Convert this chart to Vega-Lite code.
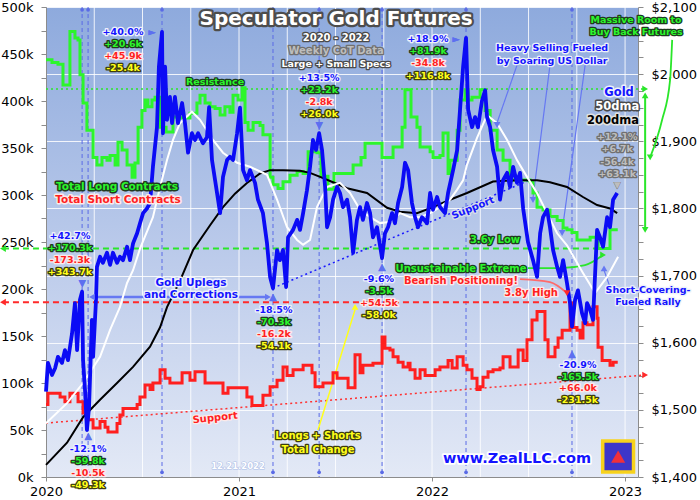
{
  "$schema": "https://vega.github.io/schema/vega-lite/v6.json",
  "description": "Speculator gold futures: total long and short contracts against the gold price, 2020 - 2022",
  "width": 592,
  "height": 470,
  "autosize": "none",
  "padding": {"left": 46, "top": 7, "right": 62, "bottom": 23},
  "background": "#ffffff",
  "config": {
    "view": {
      "stroke": null,
      "fill": {"gradient": "linear", "x1": 0, "y1": 0, "x2": 0, "y2": 1,
        "stops": [{"offset": 0, "color": "#8eaadd"}, {"offset": 0.5, "color": "#b9c9ea"}, {"offset": 1, "color": "#e3e9f6"}]}
    },
    "legend": {"disable": true},
    "axis": {"labelFont": "DejaVu Sans", "labelFontSize": 13, "labelColor": "#000000", "domainColor": "#8c8c8c", "tickColor": "#8c8c8c", "tickSize": 5}
  },
  "datasets": {
    "quarters": [
      {"t":2020.25},{"t":2020.5},{"t":2020.75},{"t":2021},{"t":2021.25},{"t":2021.5},
      {"t":2021.75},{"t":2022},{"t":2022.25},{"t":2022.5},{"t":2022.75},{"t":2023}
    ],
    "longs": [
      {"t":2020.000,"k":444},{"t":2020.031,"k":441},{"t":2020.062,"k":439},{"t":2020.088,"k":417},{"t":2020.124,"k":474},
      {"t":2020.150,"k":467},{"t":2020.166,"k":465},{"t":2020.176,"k":428},{"t":2020.192,"k":398},{"t":2020.212,"k":369},
      {"t":2020.244,"k":340},{"t":2020.264,"k":332},{"t":2020.290,"k":340},{"t":2020.316,"k":337},{"t":2020.332,"k":342},
      {"t":2020.358,"k":332},{"t":2020.373,"k":356},{"t":2020.394,"k":348},{"t":2020.420,"k":332},{"t":2020.446,"k":319},
      {"t":2020.461,"k":334},{"t":2020.477,"k":372},{"t":2020.497,"k":390},{"t":2020.513,"k":401},{"t":2020.528,"k":394},
      {"t":2020.549,"k":401},{"t":2020.565,"k":404},{"t":2020.591,"k":372},{"t":2020.622,"k":367},{"t":2020.658,"k":383},
      {"t":2020.694,"k":382},{"t":2020.746,"k":387},{"t":2020.782,"k":398},{"t":2020.798,"k":406},{"t":2020.824,"k":398},
      {"t":2020.850,"k":394},{"t":2020.876,"k":392},{"t":2020.902,"k":385},{"t":2020.927,"k":394},{"t":2020.953,"k":388},
      {"t":2020.969,"k":406},{"t":2020.995,"k":401},{"t":2021.016,"k":414},{"t":2021.031,"k":377},{"t":2021.047,"k":369},
      {"t":2021.073,"k":377},{"t":2021.109,"k":374},{"t":2021.124,"k":364},{"t":2021.161,"k":319},{"t":2021.176,"k":311},
      {"t":2021.202,"k":307},{"t":2021.228,"k":314},{"t":2021.264,"k":321},{"t":2021.301,"k":325},{"t":2021.332,"k":323},
      {"t":2021.358,"k":346},{"t":2021.404,"k":345},{"t":2021.425,"k":320},{"t":2021.461,"k":306},{"t":2021.492,"k":323},
      {"t":2021.591,"k":332},{"t":2021.632,"k":340},{"t":2021.653,"k":355},{"t":2021.741,"k":340},{"t":2021.798,"k":351},
      {"t":2021.845,"k":372},{"t":2021.860,"k":412},{"t":2021.891,"k":383},{"t":2021.922,"k":372},{"t":2021.938,"k":351},
      {"t":2021.990,"k":346},{"t":2022.005,"k":340},{"t":2022.041,"k":342},{"t":2022.057,"k":366},{"t":2022.083,"k":323},
      {"t":2022.093,"k":337},{"t":2022.130,"k":369},{"t":2022.145,"k":401},{"t":2022.171,"k":412},{"t":2022.187,"k":401},
      {"t":2022.207,"k":404},{"t":2022.249,"k":412},{"t":2022.275,"k":390},{"t":2022.301,"k":369},{"t":2022.337,"k":348},
      {"t":2022.368,"k":337},{"t":2022.404,"k":316},{"t":2022.508,"k":314},{"t":2022.523,"k":302},{"t":2022.544,"k":287},
      {"t":2022.575,"k":284},{"t":2022.611,"k":277},{"t":2022.648,"k":273},{"t":2022.679,"k":265},{"t":2022.699,"k":263},
      {"t":2022.725,"k":260},{"t":2022.751,"k":252},{"t":2022.819,"k":255},{"t":2022.860,"k":243},{"t":2022.922,"k":263},
      {"t":2022.962,"k":263}
    ],
    "shorts": [
      {"t":2020.000,"k":77},{"t":2020.010,"k":89},{"t":2020.073,"k":85},{"t":2020.098,"k":80},{"t":2020.124,"k":89},
      {"t":2020.166,"k":80},{"t":2020.192,"k":68},{"t":2020.218,"k":61},{"t":2020.244,"k":52},{"t":2020.280,"k":59},
      {"t":2020.306,"k":53},{"t":2020.321,"k":48},{"t":2020.368,"k":57},{"t":2020.383,"k":66},{"t":2020.399,"k":73},
      {"t":2020.472,"k":77},{"t":2020.487,"k":85},{"t":2020.513,"k":98},{"t":2020.539,"k":93},{"t":2020.554,"k":100},
      {"t":2020.591,"k":114},{"t":2020.617,"k":105},{"t":2020.642,"k":100},{"t":2020.705,"k":111},{"t":2020.746,"k":103},
      {"t":2020.772,"k":112},{"t":2020.824,"k":100},{"t":2020.917,"k":89},{"t":2020.943,"k":95},{"t":2021.041,"k":85},
      {"t":2021.067,"k":76},{"t":2021.124,"k":87},{"t":2021.161,"k":96},{"t":2021.197,"k":103},{"t":2021.228,"k":117},
      {"t":2021.249,"k":108},{"t":2021.280,"k":114},{"t":2021.332,"k":119},{"t":2021.378,"k":111},{"t":2021.394,"k":96},
      {"t":2021.435,"k":100},{"t":2021.487,"k":111},{"t":2021.508,"k":105},{"t":2021.565,"k":95},{"t":2021.601,"k":130},
      {"t":2021.627,"k":111},{"t":2021.642,"k":119},{"t":2021.694,"k":121},{"t":2021.741,"k":149},{"t":2021.756,"k":137},
      {"t":2021.782,"k":135},{"t":2021.798,"k":128},{"t":2021.824,"k":122},{"t":2021.850,"k":117},{"t":2021.876,"k":121},
      {"t":2021.886,"k":114},{"t":2021.912,"k":105},{"t":2021.938,"k":114},{"t":2021.964,"k":108},{"t":2022.016,"k":114},
      {"t":2022.041,"k":117},{"t":2022.083,"k":124},{"t":2022.104,"k":116},{"t":2022.130,"k":128},{"t":2022.161,"k":119},
      {"t":2022.181,"k":114},{"t":2022.207,"k":105},{"t":2022.233,"k":93},{"t":2022.249,"k":96},{"t":2022.264,"k":106},
      {"t":2022.290,"k":112},{"t":2022.316,"k":114},{"t":2022.352,"k":116},{"t":2022.368,"k":128},{"t":2022.404,"k":117},
      {"t":2022.446,"k":135},{"t":2022.472,"k":124},{"t":2022.492,"k":146},{"t":2022.518,"k":167},{"t":2022.544,"k":176},
      {"t":2022.585,"k":146},{"t":2022.601,"k":128},{"t":2022.637,"k":138},{"t":2022.653,"k":148},{"t":2022.674,"k":156},
      {"t":2022.715,"k":185},{"t":2022.731,"k":159},{"t":2022.751,"k":156},{"t":2022.767,"k":148},{"t":2022.782,"k":164},
      {"t":2022.803,"k":162},{"t":2022.834,"k":181},{"t":2022.855,"k":169},{"t":2022.860,"k":138},{"t":2022.881,"k":124},
      {"t":2022.922,"k":119},{"t":2022.938,"k":122},{"t":2022.962,"k":122}
    ],
    "gold": [
      {"t":2020.000,"p":1527},{"t":2020.010,"p":1570},{"t":2020.031,"p":1552},{"t":2020.047,"p":1562},{"t":2020.062,"p":1579},
      {"t":2020.083,"p":1570},{"t":2020.098,"p":1589},{"t":2020.114,"p":1574},{"t":2020.135,"p":1614},{"t":2020.150,"p":1659},
      {"t":2020.161,"p":1589},{"t":2020.176,"p":1664},{"t":2020.187,"p":1676},{"t":2020.192,"p":1574},{"t":2020.202,"p":1530},
      {"t":2020.212,"p":1470},{"t":2020.223,"p":1504},{"t":2020.238,"p":1634},{"t":2020.244,"p":1579},{"t":2020.259,"p":1664},
      {"t":2020.264,"p":1713},{"t":2020.280,"p":1728},{"t":2020.295,"p":1719},{"t":2020.316,"p":1734},{"t":2020.332,"p":1716},
      {"t":2020.347,"p":1734},{"t":2020.368,"p":1719},{"t":2020.383,"p":1728},{"t":2020.399,"p":1723},{"t":2020.420,"p":1743},
      {"t":2020.435,"p":1723},{"t":2020.451,"p":1748},{"t":2020.472,"p":1763},{"t":2020.487,"p":1778},{"t":2020.503,"p":1793},
      {"t":2020.523,"p":1800},{"t":2020.539,"p":1808},{"t":2020.554,"p":1862},{"t":2020.575,"p":1921},{"t":2020.585,"p":2011},
      {"t":2020.601,"p":2063},{"t":2020.606,"p":1912},{"t":2020.617,"p":2011},{"t":2020.627,"p":1932},{"t":2020.642,"p":1966},
      {"t":2020.653,"p":1927},{"t":2020.668,"p":1966},{"t":2020.684,"p":1927},{"t":2020.705,"p":1957},{"t":2020.720,"p":1927},
      {"t":2020.736,"p":1883},{"t":2020.756,"p":1912},{"t":2020.772,"p":1902},{"t":2020.788,"p":1912},{"t":2020.813,"p":1897},
      {"t":2020.834,"p":1906},{"t":2020.845,"p":1951},{"t":2020.860,"p":1872},{"t":2020.876,"p":1842},{"t":2020.902,"p":1793},
      {"t":2020.917,"p":1847},{"t":2020.938,"p":1872},{"t":2020.953,"p":1877},{"t":2020.969,"p":1872},{"t":2020.990,"p":1912},
      {"t":2021.005,"p":1950},{"t":2021.021,"p":1857},{"t":2021.041,"p":1842},{"t":2021.057,"p":1857},{"t":2021.083,"p":1838},
      {"t":2021.098,"p":1813},{"t":2021.124,"p":1793},{"t":2021.145,"p":1748},{"t":2021.161,"p":1698},{"t":2021.176,"p":1681},
      {"t":2021.197,"p":1738},{"t":2021.212,"p":1723},{"t":2021.228,"p":1738},{"t":2021.244,"p":1683},{"t":2021.254,"p":1757},
      {"t":2021.280,"p":1768},{"t":2021.301,"p":1783},{"t":2021.316,"p":1768},{"t":2021.332,"p":1793},{"t":2021.352,"p":1827},
      {"t":2021.368,"p":1862},{"t":2021.383,"p":1902},{"t":2021.399,"p":1887},{"t":2021.415,"p":1912},{"t":2021.430,"p":1887},
      {"t":2021.446,"p":1832},{"t":2021.456,"p":1772},{"t":2021.472,"p":1787},{"t":2021.487,"p":1813},{"t":2021.508,"p":1832},
      {"t":2021.523,"p":1823},{"t":2021.539,"p":1802},{"t":2021.560,"p":1813},{"t":2021.575,"p":1787},{"t":2021.591,"p":1734},
      {"t":2021.611,"p":1783},{"t":2021.627,"p":1802},{"t":2021.642,"p":1783},{"t":2021.663,"p":1808},{"t":2021.679,"p":1793},
      {"t":2021.694,"p":1757},{"t":2021.715,"p":1772},{"t":2021.741,"p":1726},{"t":2021.756,"p":1763},{"t":2021.772,"p":1772},
      {"t":2021.793,"p":1793},{"t":2021.808,"p":1778},{"t":2021.824,"p":1808},{"t":2021.845,"p":1832},{"t":2021.860,"p":1868},
      {"t":2021.876,"p":1857},{"t":2021.896,"p":1808},{"t":2021.912,"p":1787},{"t":2021.927,"p":1772},{"t":2021.948,"p":1787},
      {"t":2021.974,"p":1778},{"t":2021.990,"p":1823},{"t":2022.005,"p":1798},{"t":2022.026,"p":1817},{"t":2022.041,"p":1802},
      {"t":2022.067,"p":1793},{"t":2022.083,"p":1823},{"t":2022.109,"p":1857},{"t":2022.130,"p":1887},{"t":2022.145,"p":1947},
      {"t":2022.161,"p":2011},{"t":2022.176,"p":2054},{"t":2022.187,"p":1947},{"t":2022.207,"p":1921},{"t":2022.223,"p":1936},
      {"t":2022.238,"p":1921},{"t":2022.259,"p":1961},{"t":2022.275,"p":1976},{"t":2022.285,"p":1936},{"t":2022.301,"p":1921},
      {"t":2022.316,"p":1887},{"t":2022.337,"p":1862},{"t":2022.352,"p":1813},{"t":2022.368,"p":1842},{"t":2022.389,"p":1853},
      {"t":2022.404,"p":1832},{"t":2022.420,"p":1862},{"t":2022.440,"p":1838},{"t":2022.456,"p":1853},{"t":2022.472,"p":1800},
      {"t":2022.497,"p":1750},{"t":2022.523,"p":1723},{"t":2022.544,"p":1698},{"t":2022.560,"p":1763},{"t":2022.575,"p":1787},
      {"t":2022.596,"p":1798},{"t":2022.611,"p":1772},{"t":2022.627,"p":1738},{"t":2022.648,"p":1713},{"t":2022.663,"p":1698},
      {"t":2022.679,"p":1723},{"t":2022.699,"p":1689},{"t":2022.715,"p":1659},{"t":2022.725,"p":1624},{"t":2022.741,"p":1664},
      {"t":2022.756,"p":1678},{"t":2022.777,"p":1644},{"t":2022.793,"p":1629},{"t":2022.803,"p":1659},{"t":2022.819,"p":1649},
      {"t":2022.834,"p":1634},{"t":2022.855,"p":1768},{"t":2022.870,"p":1757},{"t":2022.886,"p":1743},{"t":2022.907,"p":1787},
      {"t":2022.922,"p":1772},{"t":2022.938,"p":1813},{"t":2022.959,"p":1823}
    ],
    "dma50": [
      {"t":2020.000,"p":1480},{"t":2020.109,"p":1510},{"t":2020.192,"p":1540},{"t":2020.280,"p":1579},{"t":2020.332,"p":1619},
      {"t":2020.383,"p":1653},{"t":2020.420,"p":1689},{"t":2020.451,"p":1708},{"t":2020.487,"p":1740},{"t":2020.554,"p":1787},
      {"t":2020.591,"p":1832},{"t":2020.627,"p":1872},{"t":2020.658,"p":1902},{"t":2020.694,"p":1927},{"t":2020.756,"p":1944},
      {"t":2020.798,"p":1932},{"t":2020.865,"p":1902},{"t":2020.917,"p":1883},{"t":2020.990,"p":1868},{"t":2021.057,"p":1862},
      {"t":2021.109,"p":1855},{"t":2021.145,"p":1850},{"t":2021.197,"p":1813},{"t":2021.249,"p":1772},{"t":2021.301,"p":1753},
      {"t":2021.332,"p":1746},{"t":2021.368,"p":1753},{"t":2021.404,"p":1802},{"t":2021.456,"p":1832},{"t":2021.523,"p":1838},
      {"t":2021.575,"p":1823},{"t":2021.627,"p":1798},{"t":2021.679,"p":1787},{"t":2021.731,"p":1778},{"t":2021.782,"p":1780},
      {"t":2021.834,"p":1793},{"t":2021.886,"p":1787},{"t":2021.938,"p":1787},{"t":2021.990,"p":1793},{"t":2022.041,"p":1802},
      {"t":2022.093,"p":1813},{"t":2022.130,"p":1828},{"t":2022.161,"p":1842},{"t":2022.181,"p":1865},{"t":2022.233,"p":1905},
      {"t":2022.285,"p":1939},{"t":2022.337,"p":1927},{"t":2022.389,"p":1902},{"t":2022.440,"p":1872},{"t":2022.492,"p":1847},
      {"t":2022.544,"p":1823},{"t":2022.596,"p":1793},{"t":2022.648,"p":1763},{"t":2022.699,"p":1745},{"t":2022.782,"p":1704},
      {"t":2022.845,"p":1674},{"t":2022.907,"p":1698},{"t":2022.964,"p":1728}
    ],
    "dma200": [
      {"t":2020.000,"p":1418},{"t":2020.109,"p":1451},{"t":2020.192,"p":1489},{"t":2020.280,"p":1515},{"t":2020.368,"p":1540},
      {"t":2020.451,"p":1564},{"t":2020.539,"p":1594},{"t":2020.591,"p":1623},{"t":2020.627,"p":1653},{"t":2020.694,"p":1692},
      {"t":2020.762,"p":1738},{"t":2020.850,"p":1775},{"t":2020.917,"p":1802},{"t":2020.979,"p":1822},{"t":2021.041,"p":1838},
      {"t":2021.109,"p":1852},{"t":2021.161,"p":1857},{"t":2021.228,"p":1857},{"t":2021.316,"p":1856},{"t":2021.368,"p":1853},
      {"t":2021.420,"p":1847},{"t":2021.487,"p":1839},{"t":2021.560,"p":1830},{"t":2021.663,"p":1823},{"t":2021.767,"p":1801},
      {"t":2021.834,"p":1795},{"t":2021.922,"p":1793},{"t":2022.005,"p":1802},{"t":2022.093,"p":1813},{"t":2022.181,"p":1823},
      {"t":2022.316,"p":1840},{"t":2022.440,"p":1842},{"t":2022.544,"p":1842},{"t":2022.611,"p":1839},{"t":2022.699,"p":1832},
      {"t":2022.782,"p":1817},{"t":2022.855,"p":1805},{"t":2022.922,"p":1800},{"t":2022.959,"p":1793}
    ],
    "events": [
      {"t":2020.187},{"t":2020.218},{"t":2020.601},{"t":2021.176},{"t":2021.415},{"t":2021.741},{"t":2022.176},{"t":2022.725}
    ],
    "guides": [
      {"t":2019.777,"k":243,"t2":2022.881,"k2":243,"kind":"longdash"},
      {"t":2019.777,"k":186,"t2":2022.699,"k2":186,"kind":"shortdash"},
      {"t":2020.000,"k":412.8,"t2":2023.104,"k2":412.8,"kind":"longdot"},
      {"t":2020.000,"k":57.4,"t2":2023.104,"k2":108.5,"kind":"shortdot"},
      {"t":2021.176,"k":201,"t2":2022.508,"k2":316,"kind":"golddot"},
      {"t":2020.238,"k":191.5,"t2":2021.150,"k2":191.5,"kind":"arrowblue"},
      {"t":2021.409,"k":50,"t2":2021.601,"k2":178,"kind":"arrowyellow"},
      {"t":2022.440,"k":438,"t2":2022.337,"k2":377,"kind":"thinblue"},
      {"t":2022.611,"k":438,"t2":2022.523,"k2":297,"kind":"thinblue"},
      {"t":2022.793,"k":438,"t2":2022.674,"k2":262,"kind":"thinblue"},
      {"t":2023.104,"k":404,"t2":2023.104,"k2":265,"kind":"arrowgreen"},
      {"t":2022.922,"k":202,"t2":2022.891,"k2":220,"kind":"thinblue"}
    ],
    "curves": [
      {"id":"room","t":2023.130,"k":340,"kind":"long"},{"id":"room","t":2023.192,"k":380,"kind":"long"},
      {"id":"room","t":2023.233,"k":422,"kind":"long"},{"id":"room","t":2023.244,"k":465,"kind":"long"},
      {"id":"extreme","t":2022.497,"k":222.3,"kind":"long"},{"id":"extreme","t":2022.663,"k":222.3,"kind":"long"},
      {"id":"extreme","t":2022.793,"k":225.5,"kind":"long"},{"id":"extreme","t":2022.886,"k":236.2,"kind":"long"},
      {"id":"bearish","t":2022.456,"k":210.6,"kind":"short"},{"id":"bearish","t":2022.611,"k":207.4,"kind":"short"},
      {"id":"bearish","t":2022.699,"k":195.7,"kind":"short"}
    ],
    "heads": [
      {"t":2019.777,"k":243,"kind":"long","dir":"left"},
      {"t":2019.777,"k":186,"kind":"short","dir":"left"},
      {"t":2023.104,"k":412.8,"kind":"long","dir":"right"},
      {"t":2023.104,"k":108.5,"kind":"short","dir":"right"},
      {"t":2020.238,"k":191.5,"kind":"blue","dir":"left"},
      {"t":2021.150,"k":191.5,"kind":"blue","dir":"right"},
      {"t":2021.601,"k":180.9,"kind":"yellow","dir":"up"},
      {"t":2022.337,"k":374.5,"kind":"blue","dir":"down"},
      {"t":2022.523,"k":294.7,"kind":"blue","dir":"down"},
      {"t":2022.674,"k":259.6,"kind":"blue","dir":"down"},
      {"t":2023.104,"k":406,"kind":"long","dir":"up"},
      {"t":2023.104,"k":263,"kind":"long","dir":"down"},
      {"t":2023.130,"k":340,"kind":"long","dir":"down"},
      {"t":2022.886,"k":236.2,"kind":"long","dir":"right"},
      {"t":2022.699,"k":195.7,"kind":"short","dir":"down"},
      {"t":2022.891,"k":222,"kind":"blue","dir":"up"}
    ],
    "notes": [
      {"t":2021.503,"k":487.2,"text":"Speculator Gold Futures","kind":"title","grp":"title"},
      {"t":2021.503,"k":467.0,"text":"2020 - 2022","kind":"white","grp":"sub"},
      {"t":2021.503,"k":453.2,"text":"Weekly CoT Data","kind":"grey","grp":"sub"},
      {"t":2021.503,"k":439.4,"text":"Large + Small Specs","kind":"white","grp":"lab"},
      {"t":2020.399,"k":473.4,"text":"+40.0%","kind":"gold","grp":"lab"},
      {"t":2020.399,"k":460.6,"text":"+20.6k","kind":"long","grp":"lab"},
      {"t":2020.399,"k":447.9,"text":"+45.9k","kind":"short","grp":"lab"},
      {"t":2020.399,"k":435.1,"text":"-25.4k","kind":"total","grp":"lab"},
      {"t":2020.549,"k":473.4,"text":"►","kind":"arrow","grp":"glyph"},
      {"t":2020.876,"k":420.2,"text":"Resistance","kind":"long","grp":"lab"},
      {"t":2020.368,"k":308.5,"text":"Total Long Contracts","kind":"long","grp":"leg"},
      {"t":2020.373,"k":294.7,"text":"Total Short Contracts","kind":"short","grp":"leg"},
      {"t":2020.124,"k":256.4,"text":"+42.7%","kind":"gold","grp":"lab"},
      {"t":2020.124,"k":243.6,"text":"+170.3k","kind":"long","grp":"lab"},
      {"t":2020.124,"k":230.9,"text":"-173.3k","kind":"short","grp":"lab"},
      {"t":2020.124,"k":218.1,"text":"+343.7k","kind":"total","grp":"lab"},
      {"t":2020.187,"k":206.4,"text":"▼","kind":"arrow","grp":"glyph"},
      {"t":2020.218,"k":29.8,"text":"-12.1%","kind":"gold","grp":"lab"},
      {"t":2020.218,"k":17.0,"text":"-59.8k","kind":"long","grp":"lab"},
      {"t":2020.218,"k":4.3,"text":"-10.5k","kind":"short","grp":"lab"},
      {"t":2020.218,"k":-8.5,"text":"-49.3k","kind":"total","grp":"lab"},
      {"t":2020.218,"k":43.5,"text":"▲","kind":"arrow","grp":"glyph"},
      {"t":2020.751,"k":206.4,"text":"Gold Uplegs","kind":"gold","grp":"leg"},
      {"t":2020.751,"k":193.6,"text":"and Corrections","kind":"gold","grp":"leg"},
      {"t":2021.181,"k":177.7,"text":"-18.5%","kind":"gold","grp":"lab"},
      {"t":2021.181,"k":164.9,"text":"-70.3k","kind":"long","grp":"lab"},
      {"t":2021.181,"k":152.1,"text":"-16.2k","kind":"short","grp":"lab"},
      {"t":2021.181,"k":139.4,"text":"-54.1k","kind":"total","grp":"lab"},
      {"t":2021.176,"k":191.0,"text":"▲","kind":"arrow","grp":"glyph"},
      {"t":2021.415,"k":424.5,"text":"+13.5%","kind":"gold","grp":"lab"},
      {"t":2021.415,"k":411.7,"text":"+23.2k","kind":"long","grp":"lab"},
      {"t":2021.415,"k":398.9,"text":"-2.8k","kind":"short","grp":"lab"},
      {"t":2021.415,"k":386.2,"text":"+26.0k","kind":"total","grp":"lab"},
      {"t":2021.415,"k":374.0,"text":"▼","kind":"arrow","grp":"glyph"},
      {"t":2021.725,"k":210.6,"text":"-9.6%","kind":"gold","grp":"lab"},
      {"t":2021.725,"k":197.9,"text":"-3.5k","kind":"long","grp":"lab"},
      {"t":2021.725,"k":185.1,"text":"+54.5k","kind":"short","grp":"lab"},
      {"t":2021.725,"k":172.3,"text":"-58.0k","kind":"total","grp":"lab"},
      {"t":2021.741,"k":223.0,"text":"▲","kind":"arrow","grp":"glyph"},
      {"t":2021.409,"k":43.6,"text":"Longs + Shorts","kind":"total","grp":"sub"},
      {"t":2021.409,"k":28.7,"text":"Total Change","kind":"total","grp":"sub"},
      {"t":2020.995,"k":11.7,"text":"12.21.2022","kind":"date","grp":"tiny"},
      {"t":2021.979,"k":466.0,"text":"+18.9%","kind":"gold","grp":"lab"},
      {"t":2021.979,"k":453.2,"text":"+81.9k","kind":"long","grp":"lab"},
      {"t":2021.979,"k":440.4,"text":"-34.8k","kind":"short","grp":"lab"},
      {"t":2021.979,"k":426.6,"text":"+116.8k","kind":"total","grp":"lab"},
      {"t":2022.124,"k":466.0,"text":"►","kind":"arrow","grp":"glyph"},
      {"t":2022.622,"k":456.4,"text":"Heavy Selling Fueled","kind":"gold","grp":"lab"},
      {"t":2022.622,"k":442.6,"text":"by Soaring US Dollar","kind":"gold","grp":"lab"},
      {"t":2023.057,"k":486.6,"text":"Massive Room to","kind":"long","grp":"lab"},
      {"t":2023.057,"k":473.4,"text":"Buy Back Futures","kind":"long","grp":"lab"},
      {"t":2022.969,"k":408.5,"text":"Gold","kind":"gold","grp":"big"},
      {"t":2022.959,"k":393.6,"text":"50dma","kind":"white","grp":"big"},
      {"t":2022.938,"k":378.7,"text":"200dma","kind":"black","grp":"big"},
      {"t":2022.959,"k":361.7,"text":"+12.1%","kind":"grey","grp":"lab"},
      {"t":2022.959,"k":348.9,"text":"+6.7k","kind":"grey","grp":"lab"},
      {"t":2022.959,"k":335.1,"text":"-56.4k","kind":"grey","grp":"lab"},
      {"t":2022.959,"k":322.3,"text":"+63.1k","kind":"grey","grp":"lab"},
      {"t":2022.959,"k":311.0,"text":"▼","kind":"grey","grp":"glyph"},
      {"t":2022.326,"k":252.1,"text":"3.6y Low","kind":"long","grp":"sub"},
      {"t":2022.150,"k":221.3,"text":"Unsustainable Extreme","kind":"long","grp":"sub"},
      {"t":2022.150,"k":208.5,"text":"Bearish Positioning!","kind":"short","grp":"sub"},
      {"t":2022.513,"k":195.7,"text":"3.8y High","kind":"short","grp":"sub"},
      {"t":2023.119,"k":198.9,"text":"Short-Covering-","kind":"gold","grp":"lab"},
      {"t":2023.119,"k":186.2,"text":"Fueled Rally","kind":"gold","grp":"lab"},
      {"t":2022.756,"k":119.1,"text":"-20.9%","kind":"gold","grp":"lab"},
      {"t":2022.756,"k":106.4,"text":"-165.5k","kind":"long","grp":"lab"},
      {"t":2022.756,"k":94.7,"text":"+66.0k","kind":"short","grp":"lab"},
      {"t":2022.756,"k":81.9,"text":"-231.5k","kind":"total","grp":"lab"},
      {"t":2022.725,"k":131.0,"text":"▲","kind":"arrow","grp":"glyph"},
      {"t":2022.440,"k":19.1,"text":"www.ZealLLC.com","kind":"site","grp":"site"}
    ],
    "tilted": [
      {"t":2020.876,"k":62.8,"text":"Support","kind":"short","deg":354},
      {"t":2022.212,"k":286.2,"text":"Support","kind":"gold","deg":338}
    ],
    "logo": [{"t":2022.964,"k":21.8}]
  },
  "layer": [
    {
      "data": {"name": "quarters"},
      "mark": {"type": "rule", "color": "#ffffff", "opacity": 0.85, "strokeWidth": 1},
      "encoding": {
        "x": {"field": "t", "type": "quantitative", "title": null,
          "scale": {"domain": [2020, 2023.067], "nice": false, "zero": false},
          "axis": {
            "orient": "bottom",
            "values": [2020, 2021, 2022, 2023],
            "format": "d",
            "grid": false, "tickSize": 4, "labelPadding": 4, "labelFlush": false, "labelOverlap": false
          }
        }
      }
    },
    {
      "data": {"name": "events"},
      "mark": {"type": "rule", "color": "#5a6ae6", "strokeDash": [4, 3], "strokeWidth": 1},
      "encoding": {
        "x": {"field": "t", "type": "quantitative", "scale": {"domain": [2020, 2023.067], "nice": false, "zero": false}, "axis": null}
      }
    },
    {
      "data": {"name": "events"},
      "mark": {"type": "point", "filled": true, "size": 14, "color": "#5a6ae6", "opacity": 1},
      "encoding": {
        "x": {"field": "t", "type": "quantitative", "scale": {"domain": [2020, 2023.067], "nice": false, "zero": false}, "axis": null},
        "y": {"datum": 497, "type": "quantitative", "scale": {"domain": [0, 500], "nice": false, "zero": false}, "axis": null}
      }
    },
    {
      "data": {"name": "events"},
      "mark": {"type": "point", "filled": true, "size": 14, "color": "#5a6ae6", "opacity": 1},
      "encoding": {
        "x": {"field": "t", "type": "quantitative", "scale": {"domain": [2020, 2023.067], "nice": false, "zero": false}, "axis": null},
        "y": {"datum": 5, "type": "quantitative", "scale": {"domain": [0, 500], "nice": false, "zero": false}, "axis": null}
      }
    },
    {
      "data": {"name": "guides"},
      "mark": {"type": "rule"},
      "encoding": {
        "x": {"field": "t", "type": "quantitative", "scale": {"domain": [2020, 2023.067], "nice": false, "zero": false}, "axis": null},
        "x2": {"field": "t2"},
        "y": {"field": "k", "type": "quantitative", "scale": {"domain": [0, 500], "nice": false, "zero": false}, "axis": null},
        "y2": {"field": "k2"},
        "color": {"field": "kind", "type": "nominal", "legend": null,
          "scale": {"domain": ["longdash", "shortdash", "longdot", "shortdot", "golddot", "arrowblue", "thinblue", "arrowyellow", "arrowgreen"],
            "range": ["#2ae62a", "#ff2a2a", "#2ae62a", "#ff3030", "#1a1aff", "#6678f2", "#6678f2", "#ffff1a", "#2ae62a"]}},
        "strokeDash": {"field": "kind", "type": "nominal", "legend": null,
          "scale": {"domain": ["longdash", "shortdash", "longdot", "shortdot", "golddot", "arrowblue", "thinblue", "arrowyellow", "arrowgreen"],
            "range": [[6, 4], [6, 4], [2, 3], [2, 3], [2, 3], [1, 0], [1, 0], [1, 0], [1, 0]]}},
        "strokeWidth": {"field": "kind", "type": "nominal", "legend": null,
          "scale": {"type": "ordinal", "domain": ["longdash", "shortdash", "longdot", "shortdot", "golddot", "arrowblue", "thinblue", "arrowyellow", "arrowgreen"],
            "range": [2, 2, 1.5, 1.5, 1.5, 2.5, 1.2, 1.5, 2]}}
      }
    },
    {
      "data": {"name": "curves"},
      "mark": {"type": "line", "interpolate": "monotone", "strokeWidth": 1.8},
      "encoding": {
        "x": {"field": "t", "type": "quantitative", "scale": {"domain": [2020, 2023.067], "nice": false, "zero": false}, "axis": null},
        "y": {"field": "k", "type": "quantitative", "scale": {"domain": [0, 500], "nice": false, "zero": false}, "axis": null},
        "detail": {"field": "id"},
        "color": {"field": "kind", "type": "nominal", "legend": null, "scale": {"domain": ["long", "short"], "range": ["#2ae62a", "#ff6b6b"]}}
      }
    },
    {
      "data": {"name": "shorts"},
      "mark": {"type": "line", "interpolate": "step-after", "color": "#ff1f1f", "strokeWidth": 3},
      "encoding": {
        "x": {"field": "t", "type": "quantitative", "scale": {"domain": [2020, 2023.067], "nice": false, "zero": false}, "axis": null},
        "y": {"field": "k", "type": "quantitative", "title": null,
          "scale": {"domain": [0, 500], "nice": false, "zero": false},
          "axis": {
            "orient": "left",
            "values": [0, 25, 50, 75, 100, 125, 150, 175, 200, 225, 250, 275, 300, 325, 350, 375, 400, 425, 450, 475, 500],
            "labelExpr": "datum.value % 50 === 0 ? datum.value + 'k' : ''",
            "grid": false, "labelPadding": 8
          }
        }
      }
    },
    {
      "data": {"name": "longs"},
      "mark": {"type": "line", "interpolate": "step-after", "color": "#2cf52c", "strokeWidth": 3},
      "encoding": {
        "x": {"field": "t", "type": "quantitative", "scale": {"domain": [2020, 2023.067], "nice": false, "zero": false}, "axis": null},
        "y": {"field": "k", "type": "quantitative", "scale": {"domain": [0, 500], "nice": false, "zero": false}, "axis": null}
      }
    },
    {
      "data": {"name": "dma200"},
      "mark": {"type": "line", "color": "#000000", "strokeWidth": 2},
      "encoding": {
        "x": {"field": "t", "type": "quantitative", "scale": {"domain": [2020, 2023.067], "nice": false, "zero": false}, "axis": null},
        "y": {"field": "p", "type": "quantitative", "title": null,
          "scale": {"domain": [1400, 2100], "nice": false, "zero": false},
          "axis": {
            "orient": "right",
            "values": [1400, 1425, 1450, 1475, 1500, 1525, 1550, 1575, 1600, 1625, 1650, 1675, 1700, 1725, 1750, 1775, 1800, 1825, 1850, 1875, 1900, 1925, 1950, 1975, 2000, 2025, 2050, 2075, 2100],
            "labelExpr": "datum.value % 100 === 0 ? '$' + format(datum.value, ',') : ''",
            "grid": true, "gridColor": "#ffffff",
            "gridOpacity": {"condition": {"test": "datum.value % 100 === 0", "value": 0.85}, "value": 0},
            "labelPadding": 8
          }
        }
      }
    },
    {
      "data": {"name": "dma50"},
      "mark": {"type": "line", "color": "#ffffff", "strokeWidth": 2},
      "encoding": {
        "x": {"field": "t", "type": "quantitative", "scale": {"domain": [2020, 2023.067], "nice": false, "zero": false}, "axis": null},
        "y": {"field": "p", "type": "quantitative", "scale": {"domain": [1400, 2100], "nice": false, "zero": false}, "axis": null}
      }
    },
    {
      "data": {"name": "gold"},
      "mark": {"type": "line", "color": "#0b0bf5", "strokeWidth": 3.8, "strokeJoin": "round"},
      "encoding": {
        "x": {"field": "t", "type": "quantitative", "scale": {"domain": [2020, 2023.067], "nice": false, "zero": false}, "axis": null},
        "y": {"field": "p", "type": "quantitative", "scale": {"domain": [1400, 2100], "nice": false, "zero": false}, "axis": null}
      }
    },
    {
      "data": {"name": "heads"},
      "mark": {"type": "point", "filled": true, "size": 45, "opacity": 1},
      "encoding": {
        "x": {"field": "t", "type": "quantitative", "scale": {"domain": [2020, 2023.067], "nice": false, "zero": false}, "axis": null},
        "y": {"field": "k", "type": "quantitative", "scale": {"domain": [0, 500], "nice": false, "zero": false}, "axis": null},
        "shape": {"field": "dir", "type": "nominal", "legend": null,
          "scale": {"domain": ["left", "right", "up", "down"], "range": ["triangle-left", "triangle-right", "triangle-up", "triangle-down"]}},
        "color": {"field": "kind", "type": "nominal", "legend": null,
          "scale": {"domain": ["long", "short", "blue", "yellow"], "range": ["#2ae62a", "#ff2a2a", "#6678f2", "#ffff1a"]}}
      }
    },
    {
      "data": {"name": "logo"},
      "mark": {"type": "point", "shape": "square", "filled": true, "size": 950, "fill": "#3d36c9", "stroke": "#f7d21c", "strokeWidth": 3.5, "opacity": 1},
      "encoding": {
        "x": {"field": "t", "type": "quantitative", "scale": {"domain": [2020, 2023.067], "nice": false, "zero": false}, "axis": null},
        "y": {"field": "k", "type": "quantitative", "scale": {"domain": [0, 500], "nice": false, "zero": false}, "axis": null}
      }
    },
    {
      "data": {"name": "logo"},
      "mark": {"type": "point", "shape": "triangle-up", "filled": true, "size": 200, "fill": "#f0303a", "opacity": 1},
      "encoding": {
        "x": {"field": "t", "type": "quantitative", "scale": {"domain": [2020, 2023.067], "nice": false, "zero": false}, "axis": null},
        "y": {"field": "k", "type": "quantitative", "scale": {"domain": [0, 500], "nice": false, "zero": false}, "axis": null}
      }
    },
    {
      "data": {"name": "notes"},
      "mark": {"type": "text", "font": "DejaVu Sans", "fontWeight": "bold", "align": "center", "baseline": "middle", "strokeJoin": "round"},
      "encoding": {
        "x": {"field": "t", "type": "quantitative", "scale": {"domain": [2020, 2023.067], "nice": false, "zero": false}, "axis": null},
        "y": {"field": "k", "type": "quantitative", "scale": {"domain": [0, 500], "nice": false, "zero": false}, "axis": null},
        "text": {"field": "text"},
        "fill": {"field": "kind", "type": "nominal", "legend": null,
          "scale": {"domain": ["gold", "long", "short", "total", "white", "grey", "black", "title", "arrow", "date", "site"],
            "range": ["#eef1fa", "#1f3a1f", "#fbeaea", "#3c3c10", "#4a4a4a", "#707070", "#e2e2e2", "#4d4d4d", "#5d6ff0", "#a9bde6", "#ffffff"]}},
        "stroke": {"field": "kind", "type": "nominal", "legend": null,
          "scale": {"domain": ["gold", "long", "short", "total", "white", "grey", "black", "title", "arrow", "date", "site"],
            "range": ["#eef1fa", "#1f3a1f", "#fbeaea", "#3c3c10", "#4a4a4a", "#707070", "#e2e2e2", "#4d4d4d", "#5d6ff0", "#a9bde6", "#ffffff"]}},
        "strokeWidth": {"field": "grp", "type": "nominal", "legend": null,
          "scale": {"type": "ordinal", "domain": ["title", "site", "big", "leg", "sub", "lab", "tiny", "glyph"], "range": [4.5, 3.5, 3, 3, 2.6, 2.6, 1, 0.5]}},
        "size": {"field": "grp", "type": "nominal", "legend": null,
          "scale": {"type": "ordinal", "domain": ["title", "site", "big", "leg", "sub", "lab", "tiny", "glyph"], "range": [20, 14.5, 11.5, 10.5, 10, 9.5, 8.5, 9]}}
      }
    },
    {
      "data": {"name": "notes"},
      "mark": {"type": "text", "font": "DejaVu Sans", "fontWeight": "bold", "align": "center", "baseline": "middle"},
      "encoding": {
        "x": {"field": "t", "type": "quantitative", "scale": {"domain": [2020, 2023.067], "nice": false, "zero": false}, "axis": null},
        "y": {"field": "k", "type": "quantitative", "scale": {"domain": [0, 500], "nice": false, "zero": false}, "axis": null},
        "text": {"field": "text"},
        "fill": {"field": "kind", "type": "nominal", "legend": null,
          "scale": {"domain": ["gold", "long", "short", "total", "white", "grey", "black", "title", "arrow", "date", "site"],
            "range": ["#1414ff", "#2cf52c", "#ff1f1f", "#ffff1a", "#ffffff", "#bdbdbd", "#000000", "#ffffff", "#5d6ff0", "#ffffff", "#1414ff"]}},
        "size": {"field": "grp", "type": "nominal", "legend": null,
          "scale": {"type": "ordinal", "domain": ["title", "site", "big", "leg", "sub", "lab", "tiny", "glyph"], "range": [20, 14.5, 11.5, 10.5, 10, 9.5, 8.5, 9]}}
      }
    },
    {
      "data": {"name": "tilted"},
      "mark": {"type": "text", "font": "DejaVu Sans", "fontWeight": "bold", "fontSize": 10, "align": "center", "baseline": "middle", "strokeWidth": 2.6, "strokeJoin": "round"},
      "encoding": {
        "x": {"field": "t", "type": "quantitative", "scale": {"domain": [2020, 2023.067], "nice": false, "zero": false}, "axis": null},
        "y": {"field": "k", "type": "quantitative", "scale": {"domain": [0, 500], "nice": false, "zero": false}, "axis": null},
        "text": {"field": "text"},
        "angle": {"field": "deg", "type": "quantitative", "scale": {"domain": [0, 360], "range": [0, 360]}},
        "fill": {"field": "kind", "type": "nominal", "legend": null, "scale": {"domain": ["short", "gold"], "range": ["#fbeaea", "#d8dde8"]}},
        "stroke": {"field": "kind", "type": "nominal", "legend": null, "scale": {"domain": ["short", "gold"], "range": ["#fbeaea", "#d8dde8"]}}
      }
    },
    {
      "data": {"name": "tilted"},
      "mark": {"type": "text", "font": "DejaVu Sans", "fontWeight": "bold", "fontSize": 10, "align": "center", "baseline": "middle"},
      "encoding": {
        "x": {"field": "t", "type": "quantitative", "scale": {"domain": [2020, 2023.067], "nice": false, "zero": false}, "axis": null},
        "y": {"field": "k", "type": "quantitative", "scale": {"domain": [0, 500], "nice": false, "zero": false}, "axis": null},
        "text": {"field": "text"},
        "angle": {"field": "deg", "type": "quantitative", "scale": {"domain": [0, 360], "range": [0, 360]}},
        "fill": {"field": "kind", "type": "nominal", "legend": null, "scale": {"domain": ["short", "gold"], "range": ["#ff1f1f", "#1414ff"]}}
      }
    }
  ],
  "resolve": {
    "scale": {"x": "independent", "y": "independent", "color": "independent", "fill": "independent", "stroke": "independent", "size": "independent",
      "strokeWidth": "independent", "strokeDash": "independent", "shape": "independent", "angle": "independent"},
    "axis": {"x": "independent", "y": "independent"}
  }
}
